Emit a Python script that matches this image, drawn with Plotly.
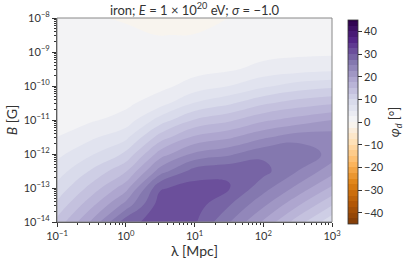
import plotly.graph_objects as go

# grid (log-spaced, half-decade steps)
lambda_mpc = [0.1, 0.316, 1.0, 3.16, 10.0, 31.6, 100.0, 316.0, 1000.0]
b_gauss = [1e-14, 3.16e-14, 1e-13, 3.16e-13, 1e-12, 3.16e-12, 1e-11,
           3.16e-11, 1e-10, 3.16e-10, 1e-9, 3.16e-9, 1e-8]

# phi_d [deg], one list per lambda column, from B = 1e-14 up to 1e-8
phi_l0 = [13.3, 10.6, 8.3, 6.2, 4.3, 2.5, 1.8, 1.3, 0.9, 0.6, 0.35, 0.2, 0.1]
phi_l1 = [20.4, 16.8, 13.4, 10.3, 7.2, 4.5, 2.2, 1.5, 1.0, 0.6, 0.3, 0.15, 0.05]
phi_l2 = [29.0, 23.5, 19.0, 14.7, 10.5, 6.8, 3.5, 1.9, 1.2, 0.7, 0.3, 0.1, -0.05]
phi_l3 = [31.3, 31.3, 29.7, 23.7, 18.7, 13.6, 8.6, 3.9, 1.8, 1.1, 0.5, -0.02, -0.8]
phi_l4 = [30.4, 31.2, 31.0, 28.6, 23.0, 17.9, 12.7, 7.6, 3.5, 1.6, 0.7, 0.05, -0.7]
phi_l5 = [25.2, 27.7, 30.2, 29.6, 24.5, 19.5, 14.5, 9.5, 5.0, 2.1, 1.1, 0.4, 0.02]
phi_l6 = [19.6, 23.0, 26.0, 28.3, 27.0, 22.0, 17.0, 12.0, 7.0, 3.3, 1.6, 0.9, 0.4]
phi_l7 = [13.7, 17.8, 21.8, 25.0, 27.2, 23.8, 18.5, 13.6, 8.6, 3.9, 1.9, 1.2, 0.6]
phi_l8 = [8.2, 12.6, 17.0, 21.0, 24.0, 23.8, 20.0, 14.6, 9.4, 4.3, 2.0, 1.4, 0.8]

cols = [phi_l0, phi_l1, phi_l2, phi_l3, phi_l4, phi_l5, phi_l6, phi_l7, phi_l8]
z = [[c[j] for c in cols] for j in range(len(b_gauss))]

x_ticks = [0.1, 1, 10, 100, 1000]
x_labels = ["10<sup>−1</sup>", "10<sup>0</sup>", "10<sup>1</sup>", "10<sup>2</sup>", "10<sup>3</sup>"]
y_ticks = [1e-14, 1e-13, 1e-12, 1e-11, 1e-10, 1e-9, 1e-8]
y_labels = ["10<sup>−%d</sup>" % k for k in (14, 13, 12, 11, 10, 9, 8)]
cb_ticks = [-40, -30, -20, -10, 0, 10, 20, 30, 40]

# minor tick positions 2..9 per decade
x_minor = [m * 10.0 ** e for e in range(-1, 3) for m in range(2, 10)]
y_minor = [m * 10.0 ** e for e in range(-14, -8) for m in range(2, 10)]

FONT = "Lato"
TXT = "#333"

fig = go.Figure(go.Contour(
    x=lambda_mpc, y=b_gauss, z=z,
    colorscale="PuOr", zmin=-45, zmax=45,
    contours=dict(start=-45, end=45, size=2.5, coloring="fill"),
    line=dict(width=0, smoothing=1.3),
    hoverinfo="skip",
    colorbar=dict(
        x=1.058, xanchor="left", y=0.49, yanchor="middle", len=1.0, thickness=10,
        xpad=0, ypad=0,
        outlinewidth=0.8, outlinecolor="#333",
        tickvals=cb_ticks, ticks="outside", ticklen=4, tickcolor="#333",
        tickfont=dict(family=FONT, size=11, color=TXT),
        title=dict(text="<i>φ<sub>d</sub></i> [°]", side="right",
                   font=dict(family=FONT, size=13, color=TXT)),
    ),
))

axis_common = dict(
    type="log", ticks="outside", ticklen=4, tickcolor="#333",
    showline=True, linecolor="#333", linewidth=1, mirror=False,
    showgrid=False, zeroline=False, automargin=False,
    tickfont=dict(family=FONT, size=11, color=TXT),
)

fig.update_xaxes(axis_common, range=[-1, 3], tickvals=x_ticks, ticktext=x_labels,
                 minor=dict(tickvals=x_minor, ticks="outside", ticklen=2, tickcolor="#333", showgrid=False),
                 title=dict(text="λ [Mpc]", font=dict(family=FONT, size=14, color=TXT), standoff=4))
fig.update_yaxes(axis_common, range=[-14, -8], tickvals=y_ticks, ticktext=y_labels,
                 minor=dict(tickvals=y_minor, ticks="outside", ticklen=2, tickcolor="#333", showgrid=False),
                 title=dict(text="<i>B</i> [G]", font=dict(family=FONT, size=14, color=TXT), standoff=2))

fig.update_layout(
    width=411, height=266,
    margin=dict(l=57, r=79, t=18, b=44, autoexpand=False),
    paper_bgcolor="white", plot_bgcolor="white",
    title=dict(text="iron; <i>E</i> = 1 × 10<sup>20</sup> eV; <i>σ</i> = −1.0",
               x=(57 + 332) / 2 / 411, xanchor="center", y=1 - 10 / 266, yanchor="middle",
               font=dict(family=FONT, size=13, color=TXT)),
    shapes=[dict(type="rect", xref="paper", yref="paper", x0=0, x1=1, y0=0, y1=1,
                 line=dict(color="#888", width=1))],
)

# drop the default page margin so the figure sits at the window corner
fig.write_html("out.html", config={"displayModeBar": False},
               post_script="document.body.style.margin='0px';")
